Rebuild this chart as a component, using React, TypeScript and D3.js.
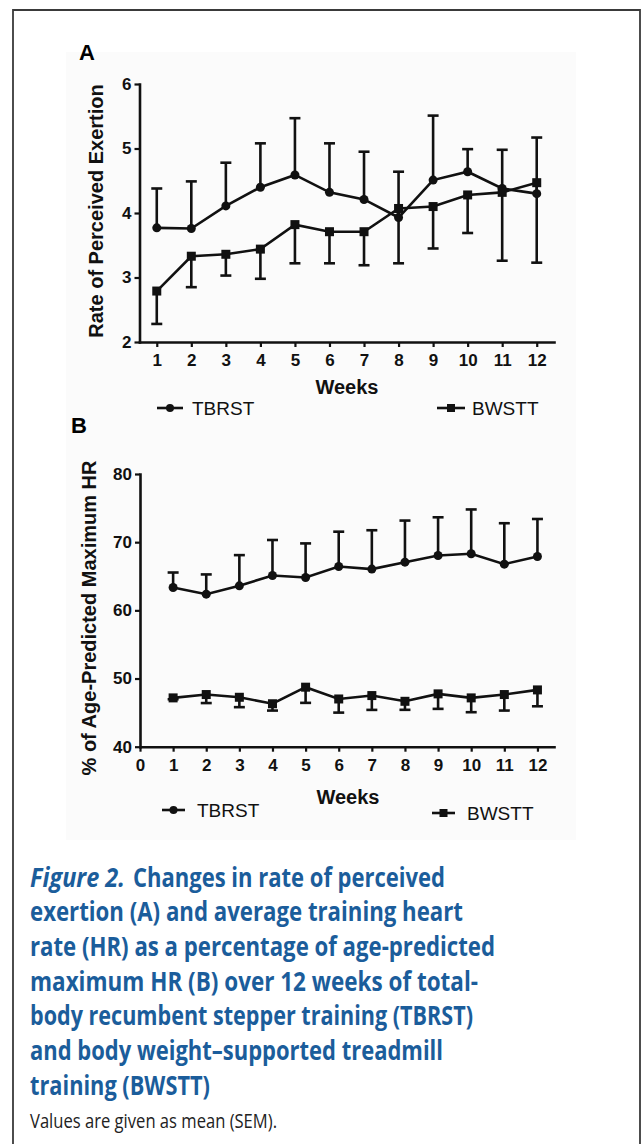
import React, { useEffect, useRef } from 'react';
import * as d3 from 'd3';

// ---------- data ----------
const weeks = [1, 2, 3, 4, 5, 6, 7, 8, 9, 10, 11, 12];
const seriesNames = ['TBRST', 'BWSTT'];

// Panel A: Rate of Perceived Exertion
const rpeTBRST = [3.77, 3.76, 4.11, 4.40, 4.59, 4.32, 4.21, 3.93, 4.51, 4.64, 4.38, 4.30];
const rpeTBRSTSem = [0.61, 0.73, 0.67, 0.68, 0.88, 0.76, 0.74, 0.71, 1.0, 0.35, 0.60, 0.87];
const rpeBWSTT = [2.79, 3.33, 3.36, 3.44, 3.82, 3.71, 3.71, 4.07, 4.10, 4.28, 4.32, 4.47];
const rpeBWSTTSem = [0.51, 0.48, 0.33, 0.46, 0.60, 0.49, 0.52, 0.85, 0.65, 0.59, 1.06, 1.24];
const rpeTicks = [2, 3, 4, 5, 6];
const rpeWeekTicks = [1, 2, 3, 4, 5, 6, 7, 8, 9, 10, 11, 12];

// Panel B: % of Age-Predicted Maximum HR
const hrTBRST = [63.35, 62.37, 63.6, 65.12, 64.82, 66.44, 66.05, 67.07, 68.05, 68.3, 66.78, 67.9];
const hrTBRSTSem = [2.2, 2.9, 4.5, 5.2, 5.0, 5.1, 5.7, 6.1, 5.6, 6.5, 6.0, 5.5];
const hrBWSTT = [47.16, 47.65, 47.25, 46.3, 48.73, 47.0, 47.5, 46.66, 47.75, 47.16, 47.65, 48.33];
const hrBWSTTSem = [0.2, 1.25, 1.45, 1.0, 2.3, 2.0, 2.1, 1.25, 2.2, 2.1, 2.35, 2.4];
const hrTicks = [40, 50, 60, 70, 80];
const hrWeekTicks = [0, 1, 2, 3, 4, 5, 6, 7, 8, 9, 10, 11, 12];

const captionLines = [
  'Changes in rate of perceived',
  'exertion (A) and average training heart',
  'rate (HR) as a percentage of age-predicted',
  'maximum HR (B) over 12 weeks of total-',
  'body recumbent stepper training (TBRST)',
  'and body weight\u2013supported treadmill',
  'training (BWSTT)',
];
const captionLead = 'Figure 2.';
const captionWidths = [312, 433, 465, 448, 443, 413, 180];
const noteText = 'Values are given as mean (SEM).';

const INK = '#111';
const FONT = '"Liberation Sans", Arial, sans-serif';
const CAP_FONT = '"Open Sans", Lato, sans-serif';
const CAP_COLOR = '#1b5d9b';

type Series = { mean: number[]; sem: number[]; dir: number; marker: 'circle' | 'square' };

function drawMarker(g: any, kind: string, cx: number, cy: number, size: number) {
  if (kind === 'circle') {
    g.append('circle').attr('cx', cx).attr('cy', cy).attr('r', size / 2).attr('fill', INK);
  } else {
    g.append('rect').attr('x', cx - size / 2).attr('y', cy - size / 2).attr('width', size).attr('height', size).attr('fill', INK);
  }
}

function drawPanel(svg: any, o: any) {
  const x = d3.scaleLinear().domain(o.xDomain).range(o.xRange);
  const y = d3.scaleLinear().domain(o.yDomain).range(o.yRange);
  const g = svg.append('g');

  const ax = g.append('g')
    .attr('transform', `translate(0,${o.yRange[0]})`)
    .call(d3.axisBottom(x).tickValues(o.xTicks).tickFormat(d3.format('d')).tickSize(5).tickPadding(7).tickSizeOuter(0));
  const ay = g.append('g')
    .attr('transform', `translate(${o.xRange[0]},0)`)
    .call(d3.axisLeft(y).tickValues(o.yTicks).tickFormat(d3.format('d')).tickSize(5).tickPadding(3).tickSizeOuter(0));
  [ax, ay].forEach((a) => {
    a.select('.domain').attr('stroke', INK).attr('stroke-width', 2.6).attr('stroke-linecap', 'square');
    a.selectAll('.tick line').attr('stroke', INK).attr('stroke-width', 2.2);
    a.selectAll('.tick text').attr('fill', INK).attr('font-family', FONT).attr('font-weight', 'bold').attr('font-size', 17);
  });

  // axis titles
  g.append('text').attr('x', o.xTitle[0]).attr('y', o.xTitle[1]).attr('text-anchor', 'middle')
    .attr('font-family', FONT).attr('font-weight', 'bold').attr('font-size', 20).attr('fill', INK).text('Weeks');
  g.append('text').attr('transform', `translate(${o.yTitle[0]},${o.yTitle[1]}) rotate(-90)`).attr('text-anchor', 'middle')
    .attr('font-family', FONT).attr('font-weight', 'bold').attr('font-size', 20).attr('fill', INK).text(o.yLabel);

  // panel letter
  g.append('text').attr('x', o.letterPos[0]).attr('y', o.letterPos[1])
    .attr('font-family', FONT).attr('font-weight', 'bold').attr('font-size', 22).attr('fill', '#000').text(o.letter);

  const line = d3.line<number>().x((_d, i) => x(weeks[i])).y((d) => y(d));
  (o.series as Series[]).forEach((s) => {
    g.append('path').datum(s.mean).attr('d', line).attr('fill', 'none').attr('stroke', INK).attr('stroke-width', 2.6);
    s.mean.forEach((m, i) => {
      const cx = x(weeks[i]);
      const y0 = y(m);
      const y1 = y(m + s.dir * s.sem[i]);
      g.append('line').attr('x1', cx).attr('x2', cx).attr('y1', y0).attr('y2', y1).attr('stroke', INK).attr('stroke-width', 2.6);
      g.append('line').attr('x1', cx - 5.5).attr('x2', cx + 5.5).attr('y1', y1).attr('y2', y1).attr('stroke', INK).attr('stroke-width', 2.6);
    });
    s.mean.forEach((m, i) => drawMarker(g, s.marker, x(weeks[i]), y(m), 9));
  });

  // legend
  o.legend.forEach((l: any, i: number) => {
    g.append('line').attr('x1', l.x0).attr('x2', l.x1).attr('y1', l.y).attr('y2', l.y).attr('stroke', INK).attr('stroke-width', 2.6);
    drawMarker(g, i === 0 ? 'circle' : 'square', (l.x0 + l.x1) / 2, l.y, 8);
    g.append('text').attr('x', l.tx).attr('y', l.y + 7).attr('font-family', FONT).attr('font-size', 19).attr('fill', INK).text(seriesNames[i]);
  });
}

export default function App() {
  const ref = useRef<SVGSVGElement | null>(null);
  useEffect(() => {
    const svg = d3.select(ref.current);
    svg.selectAll('*').remove();
    svg.append('rect').attr('width', 643).attr('height', 1144).attr('fill', '#fff');
    svg.append('rect').attr('x', 66).attr('y', 52).attr('width', 510).attr('height', 788).attr('fill', '#fbfbfb');
    // frame
    svg.append('path').attr('d', 'M13,1144 V10 H640 V1144').attr('fill', 'none').attr('stroke', '#3a3a3a').attr('stroke-width', 1.8);

    drawPanel(svg, {
      xDomain: [0.5, 12.5], xRange: [139.5, 554],
      yDomain: [2, 6], yRange: [342, 84],
      xTicks: rpeWeekTicks, yTicks: rpeTicks,
      xTitle: [347, 394], yTitle: [103, 211], yLabel: 'Rate of Perceived Exertion',
      letter: 'A', letterPos: [79, 60],
      series: [
        { mean: rpeTBRST, sem: rpeTBRSTSem, dir: 1, marker: 'circle' },
        { mean: rpeBWSTT, sem: rpeBWSTTSem, dir: -1, marker: 'square' },
      ],
      legend: [
        { x0: 157, x1: 183, y: 408, tx: 192 },
        { x0: 437, x1: 465, y: 408, tx: 472 },
      ],
    });

    drawPanel(svg, {
      xDomain: [0, 12.5], xRange: [140, 554],
      yDomain: [40, 80], yRange: [746.7, 474],
      xTicks: hrWeekTicks, yTicks: hrTicks,
      xTitle: [348, 804], yTitle: [96, 618], yLabel: '% of Age-Predicted Maximum HR',
      letter: 'B', letterPos: [71, 433],
      series: [
        { mean: hrTBRST, sem: hrTBRSTSem, dir: 1, marker: 'circle' },
        { mean: hrBWSTT, sem: hrBWSTTSem, dir: -1, marker: 'square' },
      ],
      legend: [
        { x0: 162, x1: 185, y: 810, tx: 197 },
        { x0: 432, x1: 455, y: 813, tx: 467 },
      ],
    });

    // caption
    const cap = svg.append('g').attr('font-family', CAP_FONT).attr('font-weight', 'bold').attr('font-size', 26).attr('fill', CAP_COLOR);
    cap.append('text').attr('x', 30).attr('y', 886.5).attr('font-style', 'italic')
      .attr('textLength', 95).attr('lengthAdjust', 'spacingAndGlyphs').text(captionLead);
    captionLines.forEach((t, i) => {
      const yy = 886.5 + i * 34.7;
      cap.append('text').attr('x', i === 0 ? 133 : 30).attr('y', yy)
        .attr('textLength', captionWidths[i]).attr('lengthAdjust', 'spacingAndGlyphs').text(t);
    });
    svg.append('text').attr('x', 30).attr('y', 1128).attr('font-family', CAP_FONT).attr('font-size', 20)
      .attr('fill', '#222').attr('textLength', 247).attr('lengthAdjust', 'spacingAndGlyphs').text(noteText);
  }, []);

  return (
    <svg ref={ref} width={643} height={1144} style={{ position: 'absolute', left: 0, top: 0, display: 'block' }} />
  );
}
